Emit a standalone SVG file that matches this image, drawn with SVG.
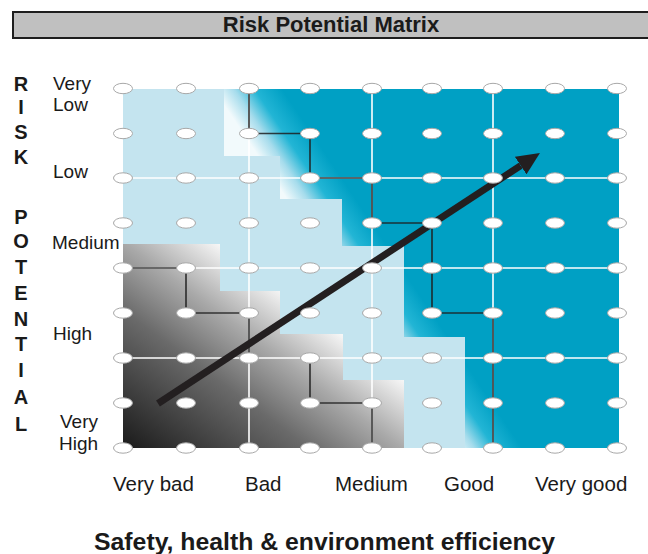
<svg xmlns="http://www.w3.org/2000/svg" xmlns:xlink="http://www.w3.org/1999/xlink" width="648" height="554" viewBox="0 0 648 554">
<style>
text{font-family:"Liberation Sans",Arial,sans-serif;fill:#1a1a1a}
.t{font-weight:bold;font-size:22px}
.ax{font-weight:bold;font-size:20px}
.lb{font-size:19px}
.xl{font-size:20.5px}
.xt{font-weight:bold;font-size:24.8px}
.grid{stroke:#fff;stroke-width:1.6;fill:none}
.path{stroke:#1e1e1e;stroke-opacity:.85;stroke-width:1.7;fill:none}
.dot{fill:#fff;stroke:#a8a8a8;stroke-width:1}
</style>
<defs>
<linearGradient id="tealG" gradientUnits="userSpaceOnUse" x1="106.2" y1="-71.3" x2="153.6" y2="-103.0">
<stop offset="0" stop-color="#f2fafc"/>
<stop offset="0.3" stop-color="#a6dcec"/>
<stop offset="0.6" stop-color="#22b5d5"/>
<stop offset="1" stop-color="#00a0c4"/>
</linearGradient>
<linearGradient id="grayG" gradientUnits="userSpaceOnUse" x1="-170.5" y1="230.7" x2="-39.2" y2="53.1">
<stop offset="0" stop-color="#1a1a1a"/>
<stop offset="0.5" stop-color="#6a6a6a"/>
<stop offset="0.75" stop-color="#a9a9a9"/>
<stop offset="1" stop-color="#f6f6f6"/>
</linearGradient>
<ellipse id="e" class="dot" cx="0" cy="0" rx="9.5" ry="5.2"/>
<marker id="ah" markerUnits="userSpaceOnUse" viewBox="0 -11 24 22" refX="0" refY="0" markerWidth="24" markerHeight="22" orient="auto">
<path d="M0,-10.5 L23,0 L0,10.5 z" fill="#231f20"/>
</marker>
</defs>
<rect width="648" height="554" fill="#fff"/>

<g id="title">
<rect x="13" y="12" width="650" height="26" fill="#c0c0c0" stroke="#1e1e1e" stroke-width="2"/>
<text class="t" x="331" y="32" text-anchor="middle">Risk Potential Matrix</text>
</g>

<g id="y-axis">
<g class="ax" text-anchor="middle">
<text x="21" y="91">R</text>
<text x="21" y="114">I</text>
<text x="21" y="139">S</text>
<text x="21" y="164">K</text>
<text x="21" y="224">P</text>
<text x="21" y="248">O</text>
<text x="21" y="274">T</text>
<text x="21" y="300">E</text>
<text x="21" y="326">N</text>
<text x="21" y="351">T</text>
<text x="21" y="377">I</text>
<text x="21" y="404">A</text>
<text x="21" y="431">L</text>
</g>
<g class="lb">
<text x="53" y="90">Very</text>
<text x="53" y="111">Low</text>
<text x="53" y="178">Low</text>
<text x="52" y="249">Medium</text>
<text x="53" y="340">High</text>
<text x="60" y="428">Very</text>
<text x="59" y="450">High</text>
</g>
</g>

<g id="matrix">
<rect x="123" y="89" width="496" height="359" fill="#c4e4ef"/>
<polygon points="224,89 619,89 619,448 465,448 465,337 404,337 404,246 342,246 342,199 280,199 280,156 224,156" fill="url(#tealG)"/>
<polygon points="123,244 220,244 220,291 280,291 280,334 343,334 343,380 404,380 404,448 123,448" fill="url(#grayG)"/>
</g>

<g id="grid" class="grid">
<line x1="123" y1="178" x2="619" y2="178"/>
<line x1="123" y1="268" x2="619" y2="268"/>
<line x1="123" y1="358" x2="619" y2="358"/>
<line x1="249" y1="89" x2="249" y2="448"/>
<line x1="372" y1="89" x2="372" y2="448"/>
<line x1="493" y1="89" x2="493" y2="448"/>
</g>

<g id="connectors">
<polyline class="path" points="249,88.5 249,133.5 310,133.5 310,178 372,178 372,223 432,223 432,313 493,313 493,448"/>
<polyline class="path" points="123,268 186,268 186,313 249,313 249,358"/>
<polyline class="path" points="310,358 310,403 372,403 372,448"/>
<line x1="158" y1="403.5" x2="520.7" y2="165.6" stroke="#231f20" stroke-width="7" marker-end="url(#ah)"/>
</g>

<g id="nodes">
<g id="row1"><use xlink:href="#e" x="123" y="88.5"/><use xlink:href="#e" x="186" y="88.5"/><use xlink:href="#e" x="249" y="88.5"/><use xlink:href="#e" x="310" y="88.5"/><use xlink:href="#e" x="372" y="88.5"/><use xlink:href="#e" x="432" y="88.5"/><use xlink:href="#e" x="493" y="88.5"/><use xlink:href="#e" x="555" y="88.5"/><use xlink:href="#e" x="617" y="88.5"/></g>
<g id="row2"><use xlink:href="#e" x="123" y="133.5"/><use xlink:href="#e" x="186" y="133.5"/><use xlink:href="#e" x="249" y="133.5"/><use xlink:href="#e" x="310" y="133.5"/><use xlink:href="#e" x="372" y="133.5"/><use xlink:href="#e" x="432" y="133.5"/><use xlink:href="#e" x="493" y="133.5"/><use xlink:href="#e" x="555" y="133.5"/><use xlink:href="#e" x="617" y="133.5"/></g>
<g id="row3"><use xlink:href="#e" x="123" y="178"/><use xlink:href="#e" x="186" y="178"/><use xlink:href="#e" x="249" y="178"/><use xlink:href="#e" x="310" y="178"/><use xlink:href="#e" x="372" y="178"/><use xlink:href="#e" x="432" y="178"/><use xlink:href="#e" x="493" y="178"/><use xlink:href="#e" x="555" y="178"/><use xlink:href="#e" x="617" y="178"/></g>
<g id="row4"><use xlink:href="#e" x="123" y="223"/><use xlink:href="#e" x="186" y="223"/><use xlink:href="#e" x="249" y="223"/><use xlink:href="#e" x="310" y="223"/><use xlink:href="#e" x="372" y="223"/><use xlink:href="#e" x="432" y="223"/><use xlink:href="#e" x="493" y="223"/><use xlink:href="#e" x="555" y="223"/><use xlink:href="#e" x="617" y="223"/></g>
<g id="row5"><use xlink:href="#e" x="123" y="268"/><use xlink:href="#e" x="186" y="268"/><use xlink:href="#e" x="249" y="268"/><use xlink:href="#e" x="310" y="268"/><use xlink:href="#e" x="372" y="268"/><use xlink:href="#e" x="432" y="268"/><use xlink:href="#e" x="493" y="268"/><use xlink:href="#e" x="555" y="268"/><use xlink:href="#e" x="617" y="268"/></g>
<g id="row6"><use xlink:href="#e" x="123" y="313"/><use xlink:href="#e" x="186" y="313"/><use xlink:href="#e" x="249" y="313"/><use xlink:href="#e" x="310" y="313"/><use xlink:href="#e" x="372" y="313"/><use xlink:href="#e" x="432" y="313"/><use xlink:href="#e" x="493" y="313"/><use xlink:href="#e" x="555" y="313"/><use xlink:href="#e" x="617" y="313"/></g>
<g id="row7"><use xlink:href="#e" x="123" y="358"/><use xlink:href="#e" x="186" y="358"/><use xlink:href="#e" x="249" y="358"/><use xlink:href="#e" x="310" y="358"/><use xlink:href="#e" x="372" y="358"/><use xlink:href="#e" x="432" y="358"/><use xlink:href="#e" x="493" y="358"/><use xlink:href="#e" x="555" y="358"/><use xlink:href="#e" x="617" y="358"/></g>
<g id="row8"><use xlink:href="#e" x="123" y="403"/><use xlink:href="#e" x="186" y="403"/><use xlink:href="#e" x="249" y="403"/><use xlink:href="#e" x="310" y="403"/><use xlink:href="#e" x="372" y="403"/><use xlink:href="#e" x="432" y="403"/><use xlink:href="#e" x="493" y="403"/><use xlink:href="#e" x="555" y="403"/><use xlink:href="#e" x="617" y="403"/></g>
<g id="row9"><use xlink:href="#e" x="123" y="448"/><use xlink:href="#e" x="186" y="448"/><use xlink:href="#e" x="249" y="448"/><use xlink:href="#e" x="310" y="448"/><use xlink:href="#e" x="372" y="448"/><use xlink:href="#e" x="432" y="448"/><use xlink:href="#e" x="493" y="448"/><use xlink:href="#e" x="555" y="448"/><use xlink:href="#e" x="617" y="448"/></g>
</g>

<g id="x-axis">
<g class="xl">
<text x="113" y="491">Very bad</text>
<text x="245" y="491">Bad</text>
<text x="335" y="491">Medium</text>
<text x="444" y="491">Good</text>
<text x="535" y="491">Very good</text>
</g>
<text class="xt" x="94" y="550">Safety, health &amp; environment efficiency</text>
</g>
</svg>
